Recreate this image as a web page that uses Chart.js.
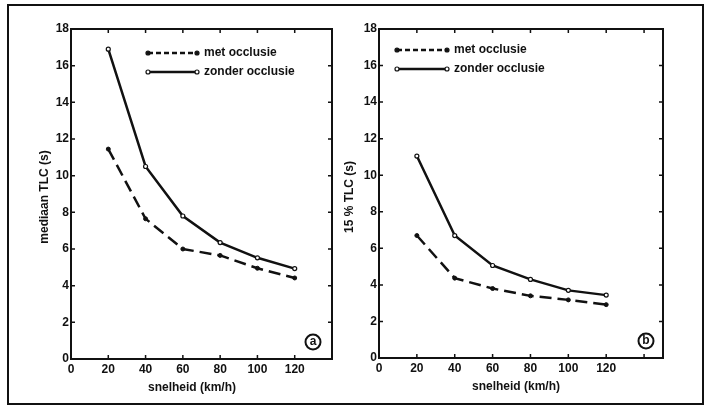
<!DOCTYPE html>
<html>
<head>
<meta charset="utf-8">
<script src="https://cdn.jsdelivr.net/npm/chart.js@4.4.1/dist/chart.umd.min.js"></script>
<style>
    html, body { margin: 0; padding: 0; background: #fff; }
    #wrap { position: relative; width: 709px; height: 406px; overflow: hidden; }
    #frame { position: absolute; left: 7px; top: 4px; width: 693px; height: 397px; border: 2px solid #111; }
    #boxA { position: absolute; left: 0; top: 0; width: 360px; height: 406px; }
    #boxB { position: absolute; left: 340px; top: 0; width: 369px; height: 406px; }
</style>
</head>
<body>
<div id="wrap">
    <div id="frame"></div>
    <div id="boxA"><canvas id="chartA" width="360" height="406"></canvas></div>
    <div id="boxB"><canvas id="chartB" width="369" height="406"></canvas></div>
</div>
<script>
// --- data ---
const speeds = [20, 40, 60, 80, 100, 120];
const medianMet = [11.45, 7.65, 6.0, 5.65, 4.95, 4.42];
const medianZonder = [16.9, 10.5, 7.8, 6.35, 5.52, 4.93];
const pct15Met = [6.7, 4.37, 3.8, 3.4, 3.18, 2.92];
const pct15Zonder = [11.05, 6.7, 5.06, 4.3, 3.7, 3.44];

const xTicks = [0, 20, 40, 60, 80, 100, 120, 140];
const xLabelMax = 120;
const yTicks = [0, 2, 4, 6, 8, 10, 12, 14, 16, 18];
const seriesNames = ['met occlusie', 'zonder occlusie'];
const xTitle = 'snelheid (km/h)';

const INK = '#111';
const FONT = 'bold 12px "Liberation Sans", Arial, sans-serif';

function pts(ys) {
    return speeds.map((s, i) => ({ x: s, y: ys[i] }));
}

// box, inward ticks, legend, titles and panel letter
const decor = {
    id: 'decor',
    afterDatasetsDraw(chart, args, o) {
        const ctx = chart.ctx;
        const a = chart.chartArea;
        const sx = chart.scales.x, sy = chart.scales.y;
        ctx.save();
        ctx.strokeStyle = INK;
        ctx.lineWidth = 2;
        ctx.setLineDash([]);
        ctx.strokeRect(a.left, a.top, a.right - a.left, a.bottom - a.top);

        ctx.lineWidth = 1.5;
        ctx.beginPath();
        xTicks.forEach(v => {
            const px = sx.getPixelForValue(v);
            if (px <= a.left + 1) return;
            ctx.moveTo(px, a.bottom); ctx.lineTo(px, a.bottom - 4);
            ctx.moveTo(px, a.top); ctx.lineTo(px, a.top + 4);
        });
        yTicks.forEach(v => {
            const py = sy.getPixelForValue(v);
            if (py <= a.top + 1 || py >= a.bottom - 1) return;
            ctx.moveTo(a.left, py); ctx.lineTo(a.left + 4, py);
            ctx.moveTo(a.right, py); ctx.lineTo(a.right - 4, py);
        });
        ctx.stroke();

        // legend
        ctx.font = FONT;
        ctx.fillStyle = INK;
        ctx.textBaseline = 'middle';
        const L = o.legend;
        seriesNames.forEach((name, i) => {
            const y = L.y + i * L.gap;
            ctx.lineWidth = 2.5;
            ctx.setLineDash(i === 0 ? [5, 3] : []);
            ctx.beginPath();
            ctx.moveTo(L.x1, y); ctx.lineTo(L.x2, y);
            ctx.stroke();
            ctx.setLineDash([]);
            [L.x1, L.x2].forEach(cx => {
                ctx.beginPath();
                ctx.arc(cx, y, 2, 0, Math.PI * 2);
                ctx.fillStyle = i === 0 ? INK : '#fff';
                ctx.fill();
                ctx.lineWidth = 1.2;
                ctx.stroke();
            });
            ctx.fillStyle = INK;
            ctx.textAlign = 'left';
            ctx.fillText(name, L.x2 + 7, y);
        });

        // axis titles
        ctx.textAlign = 'center';
        ctx.fillText(xTitle, o.xTitle.x, o.xTitle.y);
        ctx.save();
        ctx.translate(o.yTitle.x, o.yTitle.y);
        ctx.rotate(-Math.PI / 2);
        ctx.fillText(o.yTitle.text, 0, 0);
        ctx.restore();

        // panel letter
        ctx.lineWidth = 2;
        ctx.beginPath();
        ctx.arc(o.letter.x, o.letter.y, 7.5, 0, Math.PI * 2);
        ctx.stroke();
        ctx.fillText(o.letter.text, o.letter.x, o.letter.y);
        ctx.restore();
    }
};

function makeChart(id, met, zonder, box, decorOpts) {
    return new Chart(document.getElementById(id), {
        type: 'line',
        data: {
            datasets: [
                {
                    label: seriesNames[0],
                    data: pts(met),
                    borderColor: INK,
                    borderWidth: 2.5,
                    borderDash: [12, 6],
                    pointRadius: 2,
                    pointBorderWidth: 1,
                    pointBackgroundColor: INK,
                    pointBorderColor: INK,
                    tension: 0
                },
                {
                    label: seriesNames[1],
                    data: pts(zonder),
                    borderColor: INK,
                    borderWidth: 2.5,
                    pointRadius: 2,
                    pointBorderWidth: 1.2,
                    pointBackgroundColor: '#fff',
                    pointBorderColor: INK,
                    tension: 0
                }
            ]
        },
        options: {
            responsive: false,
            animation: false,
            events: [],
            layout: { padding: { left: 0, top: box.top, right: box.right, bottom: 0 } },
            scales: {
                x: {
                    type: 'linear',
                    min: 0,
                    max: box.xMax,
                    afterBuildTicks: s => { s.ticks = xTicks.map(v => ({ value: v })); },
                    afterFit: s => { s.height = box.xHeight; },
                    grid: { display: false, drawTicks: false },
                    border: { display: false },
                    ticks: {
                        color: INK,
                        padding: 3,
                        maxRotation: 0,
                        autoSkip: false,
                        font: { family: '"Liberation Sans", Arial, sans-serif', size: 12, weight: 'bold' },
                        callback: v => (v <= xLabelMax ? String(v) : '')
                    }
                },
                y: {
                    min: 0,
                    max: 18,
                    afterBuildTicks: s => { s.ticks = yTicks.map(v => ({ value: v })); },
                    afterFit: s => { s.width = box.yWidth; },
                    grid: { display: false, drawTicks: false },
                    border: { display: false },
                    ticks: {
                        color: INK,
                        padding: 2,
                        font: { family: '"Liberation Sans", Arial, sans-serif', size: 12, weight: 'bold' }
                    }
                }
            },
            plugins: {
                legend: { display: false },
                tooltip: { enabled: false },
                decor: decorOpts
            }
        },
        plugins: [decor]
    });
}

// --- (a) mediaan TLC ---
makeChart('chartA', medianMet, medianZonder,
    { top: 29, right: 28, xHeight: 47, yWidth: 71, xMax: 140 },
    {
        legend: { x1: 148, x2: 197, y: 53, gap: 19 },
        xTitle: { x: 192, y: 388 },
        yTitle: { x: 45, y: 197, text: 'mediaan TLC (s)' },
        letter: { x: 313, y: 342, text: 'a' }
    });

// --- (b) 15 % TLC ---
makeChart('chartB', pct15Met, pct15Zonder,
    { top: 29, right: 46, xHeight: 48, yWidth: 39, xMax: 150 },
    {
        legend: { x1: 57, x2: 107, y: 50, gap: 19 },
        xTitle: { x: 176, y: 387 },
        yTitle: { x: 10, y: 197, text: '15 % TLC (s)' },
        letter: { x: 306, y: 341, text: 'b' }
    });
</script>
</body>
</html>
